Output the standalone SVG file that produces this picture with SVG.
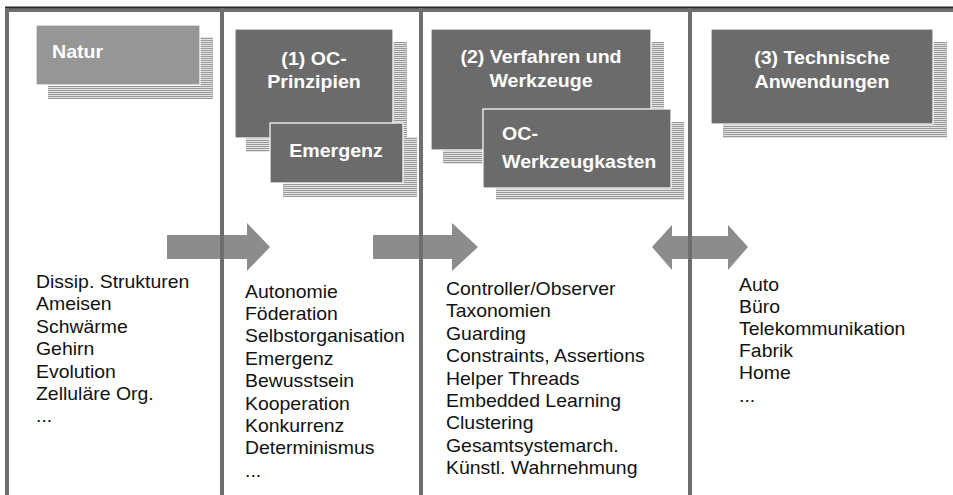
<svg xmlns="http://www.w3.org/2000/svg" width="953" height="495" viewBox="0 0 953 495">
<defs>
<pattern id="hatch" patternUnits="userSpaceOnUse" width="4" height="2">
<rect width="4" height="2" fill="#e2e2e2"/>
<rect width="4" height="1" fill="#9a9a9a"/>
</pattern>
<style>
.shadow{fill:url(#hatch);}
.box{fill:#6b6b6b;stroke:#ffffff;stroke-width:1.2;}
.boxlight{fill:#969696;stroke:#ffffff;stroke-width:1.2;}
.title{font-family:"Liberation Sans",Arial,sans-serif;font-weight:bold;font-size:18.5px;fill:#ffffff;}
.list{font-family:"Liberation Sans",Arial,sans-serif;font-size:18px;fill:#111111;}
.frame{fill:#6e6e6e;}
.arrow{fill:#8c8c8c;}
</style>
</defs>
<rect width="953" height="495" fill="#ffffff"/>

<g id="connectors">
<polygon class="arrow" points="167,235 247,235 247,223 270,247 247,271 247,259 167,259"/>
<polygon class="arrow" points="373,235 452,235 452,223 478,247 452,271 452,259 373,259"/>
<polygon class="arrow" points="652,247 672,225 672,236 728,236 728,225 748,247 728,270 728,259 672,259 672,270"/>
</g>

<g id="frame">
<rect class="frame" x="5" y="8" width="948" height="4"/>
<rect x="5" y="6.5" width="948" height="1.8" fill="#2a2a2a"/>
<rect class="frame" x="5" y="8" width="4" height="487"/>
<rect class="frame" x="220" y="8" width="4" height="487"/>
<rect class="frame" x="419" y="8" width="4" height="487"/>
<rect class="frame" x="688" y="8" width="4" height="487"/>
</g>

<g id="natur">
<rect class="shadow" x="48" y="37" width="165" height="62"/>
<rect class="boxlight" x="36" y="25" width="164" height="60"/>
<text class="title" transform="translate(52,58) scale(1.06,1)">Natur</text>
</g>

<g id="oc-prinzipien">
<rect class="shadow" x="246" y="42" width="161" height="110"/>
<rect class="box" x="235" y="29" width="158" height="109"/>
<text class="title" text-anchor="middle" transform="translate(314,65) scale(1.06,1)">(1) OC-</text>
<text class="title" text-anchor="middle" transform="translate(314,88) scale(1.06,1)">Prinzipien</text>
</g>

<g id="emergenz">
<rect class="shadow" x="283" y="137" width="134" height="60"/>
<rect class="box" x="270" y="123" width="133" height="60"/>
<text class="title" text-anchor="middle" transform="translate(336,157) scale(1.06,1)">Emergenz</text>
</g>

<g id="verfahren">
<rect class="shadow" x="443" y="42" width="221" height="122"/>
<rect class="box" x="431" y="29" width="220" height="121"/>
<text class="title" text-anchor="middle" transform="translate(541,63) scale(1.06,1)">(2) Verfahren und</text>
<text class="title" text-anchor="middle" transform="translate(541,87) scale(1.06,1)">Werkzeuge</text>
</g>

<g id="werkzeugkasten">
<rect class="shadow" x="496" y="122" width="188" height="78"/>
<rect class="box" x="483" y="109" width="188" height="79"/>
<text class="title" transform="translate(502,140) scale(1.06,1)">OC-</text>
<text class="title" transform="translate(502,168) scale(1.06,1)">Werkzeugkasten</text>
</g>

<g id="anwendungen">
<rect class="shadow" x="723" y="42" width="224" height="96"/>
<rect class="box" x="711" y="29" width="222" height="95"/>
<text class="title" text-anchor="middle" transform="translate(822,64) scale(1.06,1)">(3) Technische</text>
<text class="title" text-anchor="middle" transform="translate(822,88) scale(1.06,1)">Anwendungen</text>
</g>

<g id="list-natur">
<text class="list" transform="translate(36,288) scale(1.08,1)">
<tspan x="0" y="0">Dissip. Strukturen</tspan>
<tspan x="0" y="22.4">Ameisen</tspan>
<tspan x="0" y="44.8">Schwärme</tspan>
<tspan x="0" y="67.2">Gehirn</tspan>
<tspan x="0" y="89.6">Evolution</tspan>
<tspan x="0" y="112">Zelluläre Org.</tspan>
<tspan x="0" y="134.4">...</tspan>
</text>
</g>

<g id="list-prinzipien">
<text class="list" transform="translate(245,297.7) scale(1.08,1)">
<tspan x="0" y="0">Autonomie</tspan>
<tspan x="0" y="22.4">Föderation</tspan>
<tspan x="0" y="44.8">Selbstorganisation</tspan>
<tspan x="0" y="67.2">Emergenz</tspan>
<tspan x="0" y="89.6">Bewusstsein</tspan>
<tspan x="0" y="112">Kooperation</tspan>
<tspan x="0" y="134.4">Konkurrenz</tspan>
<tspan x="0" y="156.8">Determinismus</tspan>
<tspan x="0" y="179.2">...</tspan>
</text>
</g>

<g id="list-werkzeuge">
<text class="list" transform="translate(446,295) scale(1.08,1)">
<tspan x="0" y="0">Controller/Observer</tspan>
<tspan x="0" y="22.4">Taxonomien</tspan>
<tspan x="0" y="44.8">Guarding</tspan>
<tspan x="0" y="67.2">Constraints, Assertions</tspan>
<tspan x="0" y="89.6">Helper Threads</tspan>
<tspan x="0" y="112">Embedded Learning</tspan>
<tspan x="0" y="134.4">Clustering</tspan>
<tspan x="0" y="156.8">Gesamtsystemarch.</tspan>
<tspan x="0" y="179.2">Künstl. Wahrnehmung</tspan>
</text>
</g>

<g id="list-anwendungen">
<text class="list" transform="translate(739,290.7) scale(1.08,1)">
<tspan x="0" y="0">Auto</tspan>
<tspan x="0" y="22.2">Büro</tspan>
<tspan x="0" y="44.4">Telekommunikation</tspan>
<tspan x="0" y="66.6">Fabrik</tspan>
<tspan x="0" y="88.8">Home</tspan>
<tspan x="0" y="111">...</tspan>
</text>
</g>
</svg>
